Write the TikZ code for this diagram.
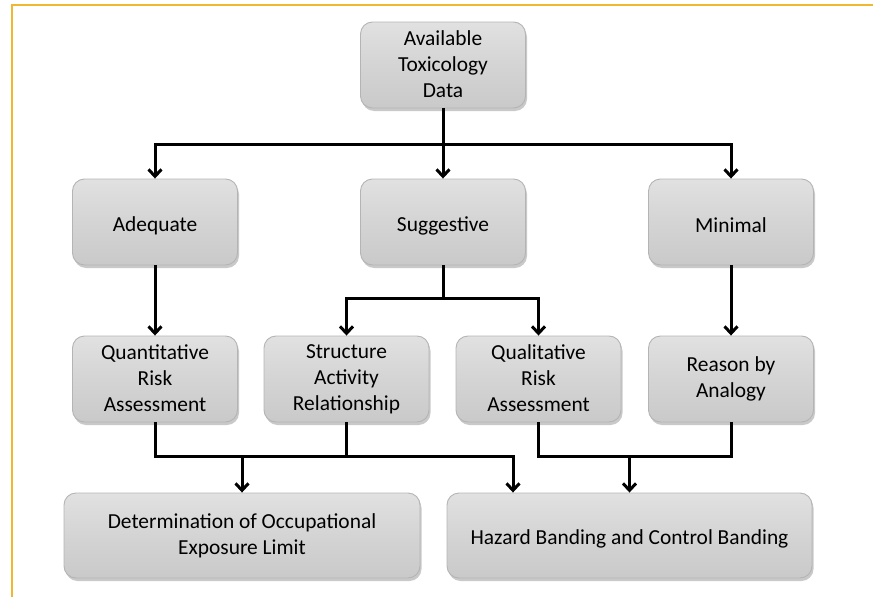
\documentclass[tikz,border=0pt]{standalone}
\usepackage{fontspec}
\setmainfont{Carlito}
\usetikzlibrary{arrows.meta,shadows}
\definecolor{boxfill}{RGB}{212,212,212}
\definecolor{boxedge}{RGB}{180,180,180}
\definecolor{frameorange}{RGB}{240,184,48}
\newcommand{\bstrutA}{\rule[-2pt]{0pt}{24pt}}
\tikzset{
  box/.style={draw=boxedge, line width=0.9pt, top color=boxfill!70!white, bottom color=boxfill!95!black,
    middle color=boxfill, rounded corners=12pt,
    align=center, inner sep=2pt, font=\fontsize{21.4}{26}\selectfont,
    execute at begin node=\bstrutA, execute at end node=\bstrutA,
    drop shadow={shadow xshift=1.5pt, shadow yshift=-3pt, opacity=0.3, fill=black!70}},
  conn/.style={line width=3pt, black, line join=miter},
  arr/.style={conn, -{Straight Barb[length=7pt,width=13pt,line width=3pt]}},
}
\begin{document}
\begin{tikzpicture}[x=1pt,y=-1pt]
\useasboundingbox (0,0) rectangle (873,597);
\draw[frameorange, line width=1.6pt] (12,597) -- (12,5) -- (873,5);

\node[box, minimum width=165pt, minimum height=86pt] (avail) at (443,65) {Available\\Toxicology\\Data};

\node[box, minimum width=165pt, minimum height=86pt] (adeq) at (155,222) {Adequate};
\node[box, minimum width=165pt, minimum height=86pt] (sugg) at (443,222) {Suggestive};
\node[box, minimum width=165pt, minimum height=86pt] (mini) at (731,222) {Minimal};

\node[box, minimum width=165pt, minimum height=86pt] (qra) at (155,379) {Quantitative\\Risk\\Assessment};
\node[box, minimum width=165pt, minimum height=86pt] (sar) at (346.5,379) {Structure\\Activity\\Relationship};
\node[box, minimum width=165pt, minimum height=86pt] (qual) at (538.5,379) {Qualitative\\Risk\\Assessment};
\node[box, minimum width=165pt, minimum height=86pt] (reason) at (731,379) {Reason by\\Analogy};

\node[box, minimum width=356pt, minimum height=85pt] (det) at (242,535.5) {Determination of Occupational\\Exposure Limit};
\node[box, minimum width=365pt, minimum height=85pt] (haz) at (629.5,535.5) {Hazard Banding and Control Banding};

% top split
\coordinate (j1) at (443,144);
\draw[conn] (avail.south) -- (j1);
\draw[arr] (j1) -| (adeq.north);
\draw[arr] (j1) -| (mini.north);
\draw[arr] (j1) -- (sugg.north);

% second row
\draw[arr] (adeq.south) -- (qra.north);
\draw[arr] (mini.south) -- (reason.north);
\coordinate (j2) at (443,298);
\draw[conn] (sugg.south) -- (j2);
\draw[arr] (j2) -| (sar.north);
\draw[arr] (j2) -| (qual.north);

% third row
\coordinate (jL) at (513,456);
\draw[arr] (qra.south) |- (jL) -- (jL |- haz.north);
\draw[conn] (sar.south) -- (sar.south |- jL);
\draw[arr] (det.north |- jL) -- (det.north);
\draw[conn] (qual.south) -- (qual.south |- jL) -- (reason.south |- jL) -- (reason.south);
\draw[arr] (haz.north |- jL) -- (haz.north);
\end{tikzpicture}
\end{document}
